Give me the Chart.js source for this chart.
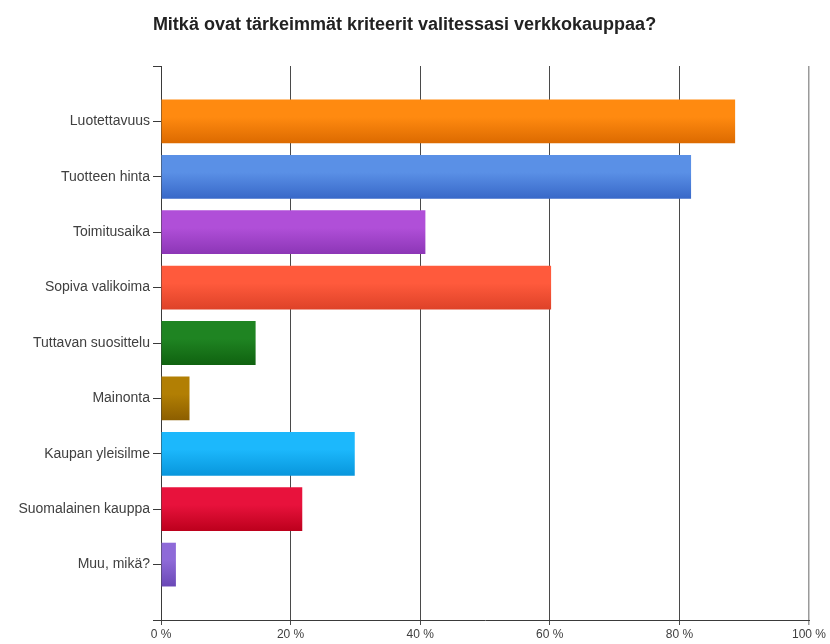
<!DOCTYPE html>
<html lang="fi">
<head>
<meta charset="utf-8">
<title>Verkkokaupan valintakriteerit</title>
<script src="https://cdn.jsdelivr.net/npm/chart.js@4/dist/chart.umd.min.js"></script>
<style>
  html, body { margin: 0; padding: 0; background: #ffffff; }
  #wrap { width: 830px; height: 644px; }
</style>
</head>
<body>
<div id="wrap"><canvas id="chart" width="830" height="644"></canvas></div>
<script>
// Survey answers: share of respondents (%) choosing each criterion
const categories = [
  'Luotettavuus',
  'Tuotteen hinta',
  'Toimitusaika',
  'Sopiva valikoima',
  'Tuttavan suosittelu',
  'Mainonta',
  'Kaupan yleisilme',
  'Suomalainen kauppa',
  'Muu, mikä?'
];
const shares = [88.6, 81.8, 40.8, 60.2, 14.6, 4.4, 29.9, 21.8, 2.3];
const xTicks = [0, 20, 40, 60, 80, 100];

// Light (top) and dark (bottom) shade for each bar
const barLight = ['#ff8a10', '#5a90e6', '#b04fd8', '#ff5a3c', '#1f8422', '#b27f04', '#1cb8fc', '#e8123c', '#8e6ad8'];
const barDark  = ['#dc6a00', '#3868c8', '#8c36b6', '#de4228', '#106210', '#8c5e00', '#0896dc', '#bc001c', '#6a48b6'];

const FONT = '"Liberation Sans", Arial, sans-serif';
const BAR_PCT = 0.79;

function barFill(ctx) {
  const chart = ctx.chart;
  const i = ctx.dataIndex;
  if (i === undefined || !chart.chartArea) return barLight[i || 0];
  const y = chart.scales.y;
  const mid = y.getPixelForValue(i);
  const half = Math.abs(y.getPixelForValue(1) - y.getPixelForValue(0)) * BAR_PCT / 2;
  const g = chart.ctx.createLinearGradient(0, mid - half, 0, mid + half);
  g.addColorStop(0, barLight[i]);
  g.addColorStop(0.4, barLight[i]);
  g.addColorStop(1, barDark[i]);
  return g;
}

new Chart(document.getElementById('chart'), {
  type: 'bar',
  data: {
    datasets: [{
      data: shares.map((v, i) => ({ x: v, y: i })),
      backgroundColor: barFill,
      borderWidth: 0,
      barPercentage: BAR_PCT,
      categoryPercentage: 1
    }]
  },
  options: {
    indexAxis: 'y',
    responsive: false,
    animation: false,
    layout: { padding: { left: 0, right: 21, top: 0, bottom: 0 } },
    plugins: {
      legend: { display: false },
      tooltip: { enabled: false },
      title: {
        display: true,
        text: 'Mitkä ovat tärkeimmät kriteerit valitessasi verkkokauppaa?',
        color: '#222222',
        font: { family: FONT, size: 18, weight: 'bold', lineHeight: 1.2 },
        padding: { top: 14, bottom: 30.4 }
      }
    },
    scales: {
      y: {
        type: 'linear',
        reverse: true,
        offset: false,
        min: -1,
        max: categories.length,
        afterBuildTicks: (s) => {
          s.ticks = [];
          for (let v = -1; v <= categories.length; v++) s.ticks.push({ value: v });
        },
        afterFit: (s) => { s.width = 161; },
        ticks: {
          autoSkip: false,
          color: '#404040',
          padding: 3,
          font: { family: FONT, size: 14 },
          callback: (v) => categories[v] ?? ''
        },
        grid: { offset: false, drawOnChartArea: false, drawTicks: true, tickLength: 8, color: '#3a3a3a' },
        border: { display: true, color: '#3a3a3a', width: 1 }
      },
      x: {
        type: 'linear',
        position: 'bottom',
        min: 0,
        max: 100,
        afterBuildTicks: (s) => { s.ticks = xTicks.map(v => ({ value: v })); },
        afterFit: (s) => { s.height = 24; },
        ticks: {
          color: '#404040',
          padding: 2,
          font: { family: FONT, size: 12 },
          callback: (v) => v + ' %'
        },
        grid: {
          drawOnChartArea: true,
          drawTicks: true,
          tickLength: 5,
          color: (c) => (c.tick && c.tick.value === 100 ? '#9a9a9a' : '#4a4a4a'),
          lineWidth: (c) => (c.tick && c.tick.value === 100 ? 1.5 : 1)
        },
        border: { display: true, color: '#3a3a3a', width: 1 }
      }
    }
  }
});
</script>
</body>
</html>
